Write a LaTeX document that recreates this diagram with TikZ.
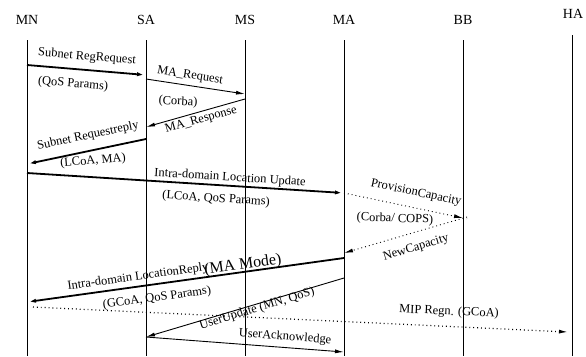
\documentclass[tikz,border=0pt]{standalone}
\usepackage{fontspec}
\setmainfont{Liberation Serif}
\usetikzlibrary{arrows.meta}
\begin{document}
\begin{tikzpicture}[x=1bp,y=-1bp,
  ent/.style={font=\fontsize{14}{16}\selectfont, inner sep=0pt},
  life/.style={line width=0.8bp},
  lbl/.style={font=\fontsize{12.5}{14}\selectfont, inner sep=0pt},
  big/.style={font=\fontsize{16}{18}\selectfont, inner sep=0pt},
  tip/.style={-{Latex[length=9bp,width=4bp]}},
  thickmsg/.style={tip, line width=1.8bp},
  thinmsg/.style={tip, line width=0.9bp},
  dotmsg/.style={tip, line width=0.9bp, dash pattern=on 0.9bp off 3bp}]
\useasboundingbox (0,0) rectangle (586,356);
% entities
\node[ent] (MN) at (27,20) {MN};
\node[ent] (SA) at (146,20) {SA};
\node[ent] (MS) at (245,20) {MS};
\node[ent] (MA) at (344,20) {MA};
\node[ent] (BB) at (463,20) {BB};
\node[ent] (HA) at (573,14) {HA};
% lifelines
\coordinate (MNt) at (27,40);  \coordinate (MNb) at (27,356);
\coordinate (SAt) at (146,40); \coordinate (SAb) at (146,356);
\coordinate (MSt) at (245,40); \coordinate (MSb) at (245,356);
\coordinate (MAt) at (344,40); \coordinate (MAb) at (344,356);
\coordinate (BBt) at (463,40); \coordinate (BBb) at (463,356);
\coordinate (HAt) at (572,35); \coordinate (HAb) at (572,356);
\draw[life] (MNt) -- (MNb);
\draw[life] (SAt) -- (SAb);
\draw[life] (MSt) -- (MSb);
\draw[life] (MAt) -- (MAb);
\draw[life] (BBt) -- (BBb);
\draw[life] (HAt) -- (HAb);
% message end points
\coordinate (m1a) at (27,65);   \coordinate (m1b) at (146,75);
\coordinate (m2a) at (146,79);  \coordinate (m2b) at (245,94);
\coordinate (m3a) at (245,99);  \coordinate (m3b) at (146,127);
\coordinate (m4a) at (146,139); \coordinate (m4b) at (27,164);
\coordinate (m5a) at (27,173);  \coordinate (m5b) at (344,193);
\coordinate (m6a) at (344,193); \coordinate (m6b) at (463,218);
\coordinate (m6c) at (467,218.8);
\coordinate (m7a) at (467,217); \coordinate (m7b) at (344,253);
\coordinate (m8a) at (344,258); \coordinate (m8b) at (27,302);
\coordinate (m9a) at (33,307);  \coordinate (m9b) at (568,332);
\coordinate (m10a) at (344,278);\coordinate (m10b) at (146,337);
\coordinate (m11a) at (146,337);\coordinate (m11b) at (344,352);
% messages
\draw[thickmsg] (m1a) -- (m1b);
\draw[thinmsg] (m2a) -- (m2b);
\draw[thinmsg] (m3a) -- (m3b);
\draw[thickmsg] (m4a) -- (m4b);
\draw[thickmsg] (m5a) -- (m5b);
\draw[dotmsg] (m6a) -- (m6b);
\draw[line width=0.9bp, dash pattern=on 0.9bp off 3bp] (m6b) -- (m6c);
\draw[dotmsg] (m7a) -- (m7b);
\draw[thickmsg] (m8a) -- (m8b);
\draw[dotmsg, line width=1.2bp] (m9a) -- (m9b);
\draw[thinmsg] (m10a) -- (m10b);
\draw[thinmsg] (m11a) -- (m11b);
% labels
\node[lbl, rotate=-4.8] (l1) at (87,57) {Subnet RegRequest};
\node[lbl, rotate=-4.8] (l1b) at (73,84) {(QoS Params)};
\node[lbl, rotate=-8.6] (l2) at (190,76) {MA\_Request};
\node[lbl, rotate=-3] (l2b) at (178,102) {(Corba)};
\node[lbl, rotate=15.8] (l3) at (201,120) {MA\_Response};
\node[lbl, rotate=11.9] (l4) at (88,136) {Subnet Requestreply};
\node[lbl, rotate=5] (l4b) at (93,161) {(LCoA, MA)};
\node[lbl, rotate=-3.6] (l5) at (230,178) {Intra-domain Location Update};
\node[lbl, rotate=-3.6] (l5b) at (216,199) {(LCoA, QoS Params)};
\node[lbl, rotate=-11.8] (l6) at (416,193) {ProvisionCapacity};
\node[lbl, rotate=-2] (l6b) at (395,219) {(Corba/ COPS)};
\node[lbl, rotate=16.3] (l7) at (416,248) {NewCapacity};
\node[lbl, rotate=7.9] (l8) at (138,277) {Intra-domain LocationReply};
\node[big, rotate=7.9] (l8m) at (243,265) {(MA Mode)};
\node[lbl, rotate=7.9] (l8b) at (157,298) {(GCoA, QoS Params)};
\node[lbl, rotate=-2.5] (l9) at (449,312) {MIP Regn. (GCoA)};
\node[lbl, rotate=16.8] (l10) at (257,309) {UserUpdate (MN, QoS)};
\node[lbl, rotate=-4.4] (l11) at (285,337) {UserAcknowledge};
\end{tikzpicture}
\end{document}
